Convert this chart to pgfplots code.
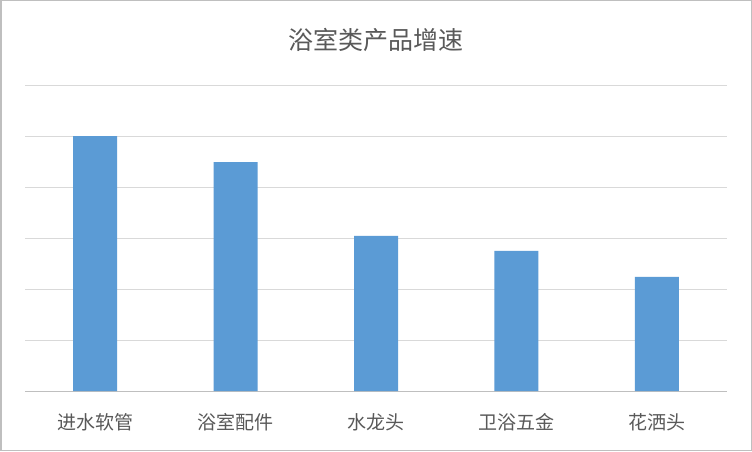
\documentclass[border=0pt]{standalone}
\usepackage{fontspec}
\usepackage{pgfplots}
\pgfplotsset{compat=1.18}
\setmainfont{Noto Sans CJK SC}
\definecolor{barblue}{HTML}{5B9BD5}
\definecolor{txtgray}{HTML}{595959}
\definecolor{gridgray}{HTML}{D9D9D9}
\begin{document}
\begin{tikzpicture}[x=1pt,y=1pt]
\fill[white] (0,0) rectangle (752,451);
\draw[color=gray!50, line width=1.5pt] (0.75,0.75) rectangle (751.25,450.25);
\begin{axis}[
  at={(25pt,60pt)}, anchor=south west,
  scale only axis, width=702pt, height=306pt,
  xmin=-0.5, xmax=4.5, ymin=0, ymax=6,
  axis line style={draw=none},
  ytick={1,2,3,4,5,6}, yticklabels={},
  ymajorgrids, grid style={gridgray, line width=0.8pt},
  major tick length=0pt,
  xtick={0,1,2,3,4},
  xticklabels={进水软管,浴室配件,水龙头,卫浴五金,花洒头},
  xticklabel style={font=\fontsize{19}{21}\selectfont, text=txtgray, yshift=-19pt},
  clip=false,
]
\draw[color=gray!50, line width=0.8pt] (axis cs:-0.5,0) -- (axis cs:4.5,0);
\addplot[ybar, bar width=44pt, fill=barblue, draw=none] coordinates {
 (0,5.0) (1,4.49) (2,3.04) (3,2.75) (4,2.24)};
\end{axis}
\node[text=txtgray, font=\fontsize{25}{28}\selectfont] at (376,411) {浴室类产品增速};
\end{tikzpicture}
\end{document}
